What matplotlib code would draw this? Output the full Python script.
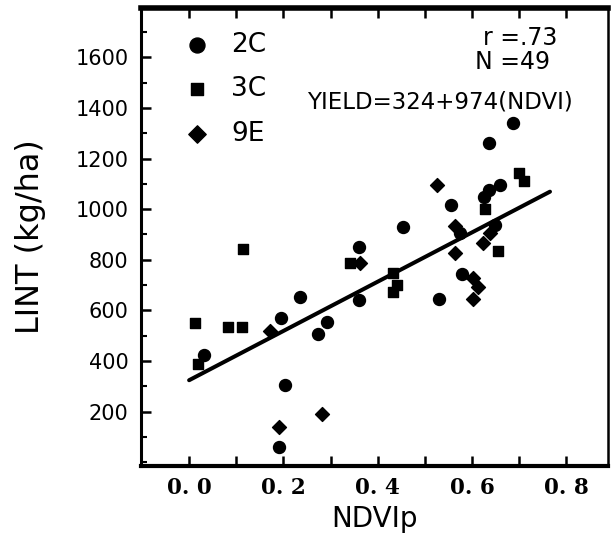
import numpy as np
import matplotlib.pyplot as plt
from matplotlib.ticker import MultipleLocator, FixedLocator

# donnees (NDVIp, LINT kg/ha)
c2_ndvi = [0.686, 0.636, 0.659, 0.636, 0.625, 0.555, 0.453, 0.574, 0.648, 0.530,
           0.578, 0.360, 0.360, 0.235, 0.195, 0.032, 0.292, 0.273, 0.203, 0.191]
c2_lint = [1339, 1260, 1095, 1075, 1047, 1015, 929, 905, 936, 645,
           743, 850, 641, 651, 569, 424, 554, 507, 306, 61]

c3_ndvi = [0.699, 0.709, 0.627, 0.655, 0.432, 0.441, 0.432, 0.341, 0.114, 0.013,
           0.083, 0.112, 0.019]
c3_lint = [1142, 1110, 999, 834, 747, 700, 672, 787, 842, 550,
           534, 534, 389]

e9_ndvi = [0.525, 0.564, 0.637, 0.623, 0.564, 0.602, 0.612, 0.602, 0.362, 0.172,
           0.282, 0.191]
e9_lint = [1095, 932, 905, 865, 826, 727, 692, 645, 787, 519,
           191, 140]

# regression YIELD = a + b*NDVI
a, b = 324, 974
x_fit = [0.0, 0.765]

fig = plt.figure(figsize=(6.12, 5.56), dpi=100)
ax = fig.add_axes([141 / 612, 1 - 466 / 556, (608 - 141) / 612, (466 - 8) / 556])

ax.scatter(c2_ndvi, c2_lint, marker="o", s=74, color="black", label="2C", zorder=3)
ax.scatter(c3_ndvi, c3_lint, marker="s", s=52, color="black", label="3C", zorder=3)
ax.scatter(e9_ndvi, e9_lint, marker="D", s=50, color="black", label="9E", zorder=3)
ax.plot(x_fit, [a + b * x for x in x_fit], color="black", lw=2.9, solid_capstyle="round")

ax.set_xlim(-0.102, 0.888)
ax.set_ylim(-15, 1795)

ax.xaxis.set_major_locator(FixedLocator([0.0, 0.1, 0.2, 0.3, 0.4, 0.5, 0.6, 0.7, 0.8]))
ax.set_xticklabels(["0. 0", "", "0. 2", "", "0. 4", "", "0. 6", "", "0. 8"],
                   family="DejaVu Serif", fontweight="bold", fontsize=15.5)
ax.yaxis.set_major_locator(FixedLocator([200, 400, 600, 800, 1000, 1200, 1400, 1600]))
ax.yaxis.set_minor_locator(MultipleLocator(100))
ax.tick_params(axis="y", labelsize=15, pad=9)
ax.tick_params(axis="x", pad=8)
for lab in ax.get_yticklabels():
    lab.set_fontweight("medium")

ax.tick_params(which="major", direction="in", length=7, width=1.8, top=True)
ax.tick_params(which="minor", direction="in", length=4, width=1.5)
ax.tick_params(axis="x", which="minor", bottom=False, top=False)

ax.spines["top"].set_linewidth(4)
ax.spines["bottom"].set_linewidth(3)
ax.spines["left"].set_linewidth(2.2)
ax.spines["right"].set_linewidth(1.8)

ax.set_xlabel("NDVIp", fontsize=20, labelpad=4)
ax.set_ylabel("LINT (kg/ha)", fontsize=23, labelpad=21)

ax.text(0.701, 1678, "r =.73", fontsize=17, ha="center", va="center")
ax.text(0.686, 1580, "N =49", fontsize=17, ha="center", va="center")
ax.text(0.532, 1422, "YIELD=324+974(NDVI)", fontsize=16.5, ha="center", va="center")

ax.legend(loc="upper left", bbox_to_anchor=(0.035, 1.0), frameon=False,
          fontsize=19, markerscale=1.25, handletextpad=0.7, labelspacing=0.7,
          handlelength=1.2)

fig.savefig("out.png", dpi=100)
